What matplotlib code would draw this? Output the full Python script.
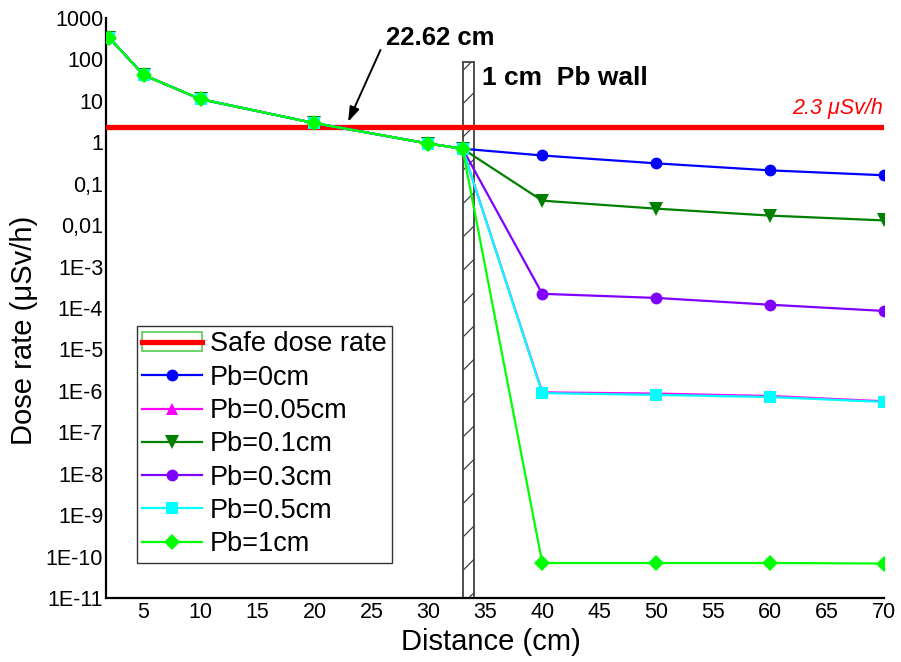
import matplotlib
matplotlib.use("Agg")
import matplotlib.pyplot as plt
from matplotlib.patches import Rectangle
from matplotlib.lines import Line2D
from matplotlib.legend_handler import HandlerTuple
import numpy as np

plt.rcParams['font.family'] = ['Liberation Sans', 'DejaVu Sans']
plt.rcParams['hatch.linewidth'] = 0.9

# ---- data ----
distance = [2, 5, 10, 20, 30, 33, 40, 50, 60, 70]
pb_0 = [330, 42, 11, 2.9, 0.93, 0.70, 0.48, 0.31, 0.21, 0.16]
pb_005 = [330, 42, 11, 2.9, 0.93, 0.70, 9.2e-7, 8.6e-7, 7.5e-7, 5.6e-7]
pb_01 = [330, 42, 11, 2.9, 0.93, 0.70, 0.039, 0.025, 0.017, 0.013]
pb_03 = [330, 42, 11, 2.9, 0.93, 0.70, 2.2e-4, 1.75e-4, 1.2e-4, 8.5e-5]
pb_05 = [330, 42, 11, 2.9, 0.93, 0.70, 8.8e-7, 8.0e-7, 7.1e-7, 5.4e-7]
pb_1 = [330, 42, 11, 2.9, 0.93, 0.70, 7.0e-11, 7.0e-11, 7.0e-11, 6.8e-11]
safe_dose = 2.3
wall_x = [33, 34]
wall_top = 85
crossing = 22.62

series_labels = ["Pb=0cm", "Pb=0.05cm", "Pb=0.1cm", "Pb=0.3cm", "Pb=0.5cm", "Pb=1cm"]
series_values = [pb_0, pb_005, pb_01, pb_03, pb_05, pb_1]
series_colors = ["#0000FF", "#FF00FF", "#008000", "#8000FF", "#00FFFF", "#00FF00"]
series_markers = ["o", "^", "v", "o", "s", "D"]
series_msize = [8.5, 8.5, 9.5, 8.5, 8, 8]

yticks = [1e3, 1e2, 1e1, 1, 0.1, 0.01, 1e-3, 1e-4, 1e-5, 1e-6, 1e-7, 1e-8, 1e-9, 1e-10, 1e-11]
ytick_labels = ["1000", "100", "10", "1", "0,1", "0,01", "1E-3", "1E-4", "1E-5", "1E-6",
                "1E-7", "1E-8", "1E-9", "1E-10", "1E-11"]
xticks = [5, 10, 15, 20, 25, 30, 35, 40, 45, 50, 55, 60, 65, 70]

# ---- figure ----
fig = plt.figure(figsize=(9.01, 6.62), dpi=100)
ax = fig.add_axes([106/901, 1 - 598/662, 778/901, 580/662])
ax.set_yscale('log')
ax.set_xlim(1.7, 70)
ax.set_ylim(1e-11, 1e3)

# wall
ax.add_patch(Rectangle((wall_x[0], 1e-11), wall_x[1] - wall_x[0], wall_top - 1e-11,
                       facecolor='white', edgecolor='#404040', hatch='/', lw=1.3, zorder=2))

# safe line
safe_line = ax.axhline(safe_dose, color='#FF0000', lw=3.8, zorder=3)

handles = []
for vals, lab, col, mk, ms in zip(series_values, series_labels, series_colors, series_markers, series_msize):
    h, = ax.plot(distance, vals, color=col, marker=mk, ms=ms, lw=1.6, label=lab, zorder=4,
                 markeredgewidth=0)
    handles.append(h)

# annotations
ax.annotate('', xy=(22.95, 3.1), xytext=(25.8, 170),
            arrowprops=dict(arrowstyle='-|>,head_length=0.9,head_width=0.3', color='black', lw=1.4,
                            shrinkA=0, shrinkB=0), zorder=6)
ax.text(31.0, 329, f"{crossing:.2f} cm", fontsize=18.5, fontweight='bold', ha='center', va='center')
ax.text(34.7, 35.5, "1 cm  Pb wall", fontsize=19, fontweight='bold', ha='left', va='center')
ax.text(69.9, 6.7, f"{safe_dose} \u03bcSv/h", fontsize=15.5, fontstyle='italic',
        color='#FF0000', ha='right', va='center')

# axes styling
for s in ['top', 'right']:
    ax.spines[s].set_visible(False)
for s in ['left', 'bottom']:
    ax.spines[s].set_linewidth(1.6)
ax.set_yticks(yticks)
ax.set_yticklabels(ytick_labels)
ax.yaxis.set_minor_locator(matplotlib.ticker.NullLocator())
ax.set_xticks(xticks)
ax.tick_params(axis='both', length=0, labelsize=15.5)
ax.tick_params(axis='y', pad=2)
ax.tick_params(axis='x', pad=3)

ax.set_xlabel("Distance (cm)", fontsize=21)
ax.set_ylabel("Dose rate (\u03bcSv/h)", fontsize=21)
ax.xaxis.set_label_coords(0.495, -0.052)
ax.yaxis.set_label_coords(-0.087, 0.462)

# legend
safe_box = Rectangle((0, 0), 1, 1, facecolor='none', edgecolor='#55CC55', lw=1.2)
safe_handle = Line2D([], [], color='#FF0000', lw=3.8)
leg = ax.legend([(safe_box, safe_handle)] + handles, ["Safe dose rate"] + series_labels,
                handler_map={tuple: HandlerTuple(ndivide=1, pad=0)},
                loc='upper left', bbox_to_anchor=(137/901, 1 - 326/662), bbox_transform=fig.transFigure,
                fontsize=19.5, frameon=True, fancybox=False, edgecolor='#333333', framealpha=1,
                borderaxespad=0, handlelength=2.2, handletextpad=0.3, labelspacing=0.27,
                borderpad=0.2)
leg.get_frame().set_linewidth(1.0)

fig.savefig("out.png", dpi=100)
